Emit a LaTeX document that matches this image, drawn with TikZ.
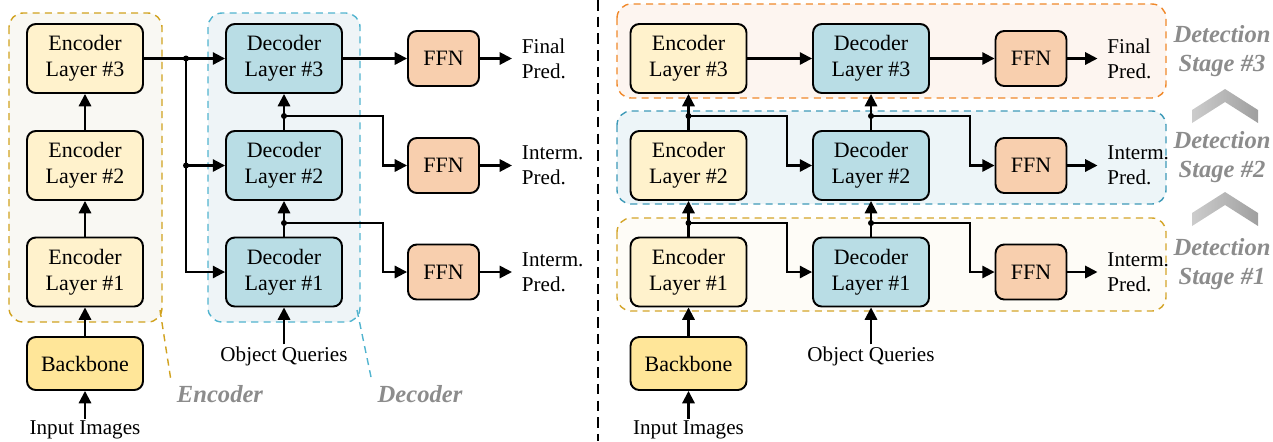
\documentclass[tikz,border=0pt]{standalone}
\usepackage{fontspec}
\setmainfont{LiberationSerif}[Extension=.ttf, UprightFont=*-Regular, BoldFont=*-Bold, ItalicFont=*-Italic, BoldItalicFont=*-BoldItalic]
\usetikzlibrary{arrows.meta}

\definecolor{encfill}{HTML}{FFF2CC}
\definecolor{bbfill}{HTML}{FFE699}
\definecolor{decfill}{HTML}{B9DDE5}
\definecolor{ffnfill}{HTML}{F8CFAE}
\definecolor{encline}{HTML}{D1A21F}
\definecolor{encgroup}{HTML}{F9F8F3}
\definecolor{decline}{HTML}{52B4CF}
\definecolor{decgroup}{HTML}{EEF4F7}
\definecolor{stgorange}{HTML}{F0882A}
\definecolor{stgorangefill}{HTML}{FDF5F0}
\definecolor{stgblue}{HTML}{3E9AB8}
\definecolor{stgbluefill}{HTML}{EDF5F8}
\definecolor{stggold}{HTML}{D4A52A}
\definecolor{stggoldfill}{HTML}{FEFCF7}
\definecolor{taggray}{HTML}{8C8C8C}

\tikzset{
  layer/.style={draw, line width=1.1pt, rounded corners=5pt, minimum width=2.32cm,
    minimum height=1.38cm, align=center, inner sep=0pt,
    font=\fontsize{12.5}{14.8}\selectfont},
  enc/.style={layer, fill=encfill},
  dec/.style={layer, fill=decfill},
  ffn/.style={layer, fill=ffnfill, minimum width=1.42cm, minimum height=1.1cm},
  bbone/.style={layer, fill=bbfill, minimum height=1.06cm},
  txt/.style={font=\fontsize{12}{14.3}\selectfont, align=left, inner sep=1pt},
  pred/.style={txt, anchor=west, inner xsep=5.5pt},
  flow/.style={-{Triangle[length=7pt,width=7pt]}, line width=1.2pt},
  group/.style={dash pattern=on 4pt off 3pt, line width=0.8pt, rounded corners=8pt},
  tag/.style={font=\fontsize{14}{16.5}\selectfont\bfseries\itshape, text=taggray, align=center},
}

\begin{document}
\begin{tikzpicture}[x=0.02cm, y=-0.02cm]
  \useasboundingbox (0,0) rectangle (1273,441);

  % Left: encoder / decoder with intermediate predictions
  \begin{scope}
    \draw[group, draw=encline, fill=encgroup] (9,13) rectangle (162,322);
    \draw[group, draw=decline, fill=decgroup] (208,13) rectangle (360,322);
    \coordinate (lec) at (160,310);
    \coordinate (ldc) at (357,310);

    \foreach \i/\y in {1/272,2/165.5,3/58.5} {
      \node[enc] (le\i) at (85,\y) {Encoder\\Layer \#\i};
      \node[dec] (ld\i) at (284,\y) {Decoder\\Layer \#\i};
      \node[ffn] (lf\i) at (443.5,\y) {FFN};
      \draw[flow] (lf\i.east) -- ++(32,0) coordinate (lo\i);
    }
    \node[pred] (lp3) at (lo3) {Final\\Pred.};
    \node[pred] (lp2) at (lo2) {Interm.\\Pred.};
    \node[pred] (lp1) at (lo1) {Interm.\\Pred.};

    \node[bbone] (lbb) at (85,363.5) {Backbone};
    \node[txt] (lin) at (85,430) {Input Images};
    \node[txt] (lq) at (284,356) {Object Queries};

    \draw[flow] (lin.north) -- (lbb.south);
    \draw[flow] (lbb.north) -- (le1.south);
    \draw[flow] (le1.north) -- (le2.south);
    \draw[flow] (le2.north) -- (le3.south);
    \draw[flow] (lq.north) -- (ld1.south);
    \draw[flow] (ld1.north) -- (ld2.south);
    \draw[flow] (ld2.north) -- (ld3.south);
    \draw[flow] (ld3.east) -- (lf3.west);

    % encoder memory to every decoder layer
    \coordinate (lj3) at (186,58.5);
    \coordinate (lj2) at (186,165.5);
    \draw[flow] (le3.east) -- (ld3.west);
    \draw[flow] (lj3) |- (ld1.west);
    \draw[flow] (lj2) -- (ld2.west);
    \fill (lj3) circle (3);
    \fill (lj2) circle (3);

    % intermediate outputs
    \foreach \i/\y in {1/223,2/116} {
      \coordinate (lk\i) at (284,\y);
      \coordinate (lb\i) at (383,\y);
      \draw[flow] (lk\i) -- (lb\i) |- (lf\i.west);
      \fill (lk\i) circle (3);
    }

    \node[tag] (lenc) at (220,394) {Encoder};
    \node[tag] (ldec) at (420,394) {Decoder};
    \draw[encline, group] (lec) -- (lenc.north west);
    \draw[decline, group] (ldc) -- (ldec.north west);
  \end{scope}

  % separator
  \coordinate (sept) at (598,0);
  \coordinate (sepb) at (598,441);
  \draw[line width=1.6pt, dash pattern=on 6pt off 3.5pt] (sept) -- (sepb);

  % Right: detection stages
  \begin{scope}
    \draw[group, draw=stgorange, fill=stgorangefill] (617,4) rectangle (1166,98);
    \draw[group, draw=stgblue, fill=stgbluefill] (617,111) rectangle (1166,204);
    \draw[group, draw=stggold, fill=stggoldfill] (617,218) rectangle (1166,311);

    \foreach \i/\y in {1/272,2/165.5,3/58.5} {
      \node[enc] (re\i) at (688.5,\y) {Encoder\\Layer \#\i};
      \node[dec] (rd\i) at (871,\y) {Decoder\\Layer \#\i};
      \node[ffn] (rf\i) at (1031,\y) {FFN};
      \draw[flow] (rf\i.east) -- ++(30,0) coordinate (ro\i);
    }
    \node[pred] (rp3) at (ro3) {Final\\Pred.};
    \node[pred] (rp2) at (ro2) {Interm.\\Pred.};
    \node[pred] (rp1) at (ro1) {Interm.\\Pred.};

    \node[bbone] (rbb) at (688.5,363.5) {Backbone};
    \node[txt] (rin) at (688.5,430) {Input Images};
    \node[txt] (rq) at (871,356) {Object Queries};

    \draw[flow] (rin.north) -- (rbb.south);
    \draw[flow] (rbb.north) -- (re1.south);
    \draw[flow] (re1.north) -- (re2.south);
    \draw[flow] (re2.north) -- (re3.south);
    \draw[flow] (re3.east) -- (rd3.west);
    \draw[flow] (rq.north) -- (rd1.south);
    \draw[flow] (rd1.north) -- (rd2.south);
    \draw[flow] (rd2.north) -- (rd3.south);
    \draw[flow] (rd3.east) -- (rf3.west);

    \foreach \i/\y in {1/223,2/116} {
      \coordinate (rj\i) at (688.5,\y);
      \coordinate (rc\i) at (787,\y);
      \draw[flow] (rj\i) -- (rc\i) |- (rd\i.west);
      \fill (rj\i) circle (3);
      \coordinate (rk\i) at (871,\y);
      \coordinate (rb\i) at (970,\y);
      \draw[flow] (rk\i) -- (rb\i) |- (rf\i.west);
      \fill (rk\i) circle (3);
    }

    % stage labels and chevrons
    \node[tag] (st3) at (1222,51.5) {Detection\\Stage \#3};
    \node[tag] (st2) at (1222,157.5) {Detection\\Stage \#2};
    \node[tag] (st1) at (1222,264) {Detection\\Stage \#1};
    \foreach \dy in {0,103} {
      \shade[left color=gray!40, right color=gray!75]
        (1192,110+\dy) -- (1225,89+\dy) -- (1258,110+\dy) -- (1258,123+\dy)
        -- (1225,102+\dy) -- (1192,123+\dy) -- cycle;
    }
  \end{scope}
\end{tikzpicture}
\end{document}
